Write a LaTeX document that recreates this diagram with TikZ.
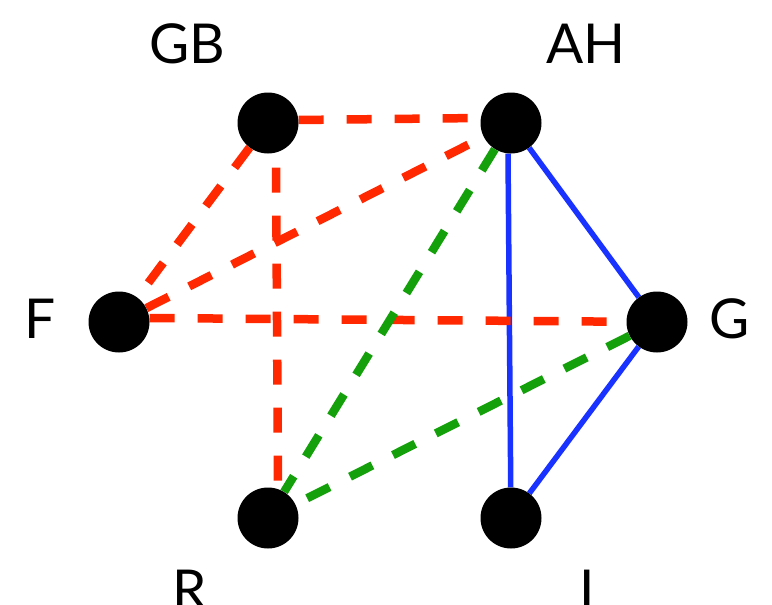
\documentclass[tikz,border=0pt]{standalone}
\usepackage{fontspec}
\setmainfont{Lato}
\usetikzlibrary{backgrounds}
\definecolor{edgered}{RGB}{255,40,0}
\definecolor{edgegreen}{RGB}{20,160,10}
\definecolor{edgeblue}{RGB}{25,50,255}
\tikzset{
  vertex/.style={circle, fill=black, inner sep=0pt, minimum size=61pt},
  lbl/.style={font=\fontsize{55}{55}\selectfont, anchor=base, inner sep=0pt},
  redge/.style={draw=edgered, line width=8.5pt, dash pattern=on 25pt off 23pt},
  gedge/.style={draw=edgegreen, line width=8.5pt, dash pattern=on 25pt off 23pt},
  bedge/.style={draw=edgeblue, line width=5.5pt},
}
\begin{document}
\begin{tikzpicture}[x=1pt, y=-1pt]
  \useasboundingbox (0,0) rectangle (772,605);

  % vertices
  \node[vertex] (GB) at (268,123) {};
  \node[vertex] (AH) at (511,123) {};
  \node[vertex] (F)  at (119,322) {};
  \node[vertex] (G)  at (657,322) {};
  \node[vertex] (R)  at (268,518) {};
  \node[vertex] (I)  at (511,518) {};

  % vertex names
  \node[lbl] (tGB) at (187,63) {GB};
  \node[lbl] (tAH) at (586,63) {AH};
  \node[lbl] (tF)  at (40,338) {F};
  \node[lbl] (tG)  at (730,338) {G};
  \node[lbl] (tR)  at (190,609) {R};
  \node[lbl] (tI)  at (587,609) {I};

  % edges, kept behind the vertices (shifts are in page units: +y is up)
  \begin{pgfonlayer}{background}
    \draw[bedge] ([xshift=-3pt]AH.south) -- (I);
    \draw[bedge] (AH) -- (G);
    \draw[bedge] (G) -- (I);
    \draw[redge] ([yshift=3pt]GB.east) -- ([yshift=5pt]AH.west);
    \draw[redge] (GB) -- (F);
    \draw[redge, dash phase=34pt] ([xshift=8pt]GB.south) -- ([xshift=10pt]R.north);
    \draw[redge] (F) -- (AH);
    \draw[redge] ([yshift=4pt]F.east) -- (G);
    \draw[gedge] (AH) -- (R);
    \draw[gedge] (G) -- (R);
  \end{pgfonlayer}
\end{tikzpicture}
\end{document}
